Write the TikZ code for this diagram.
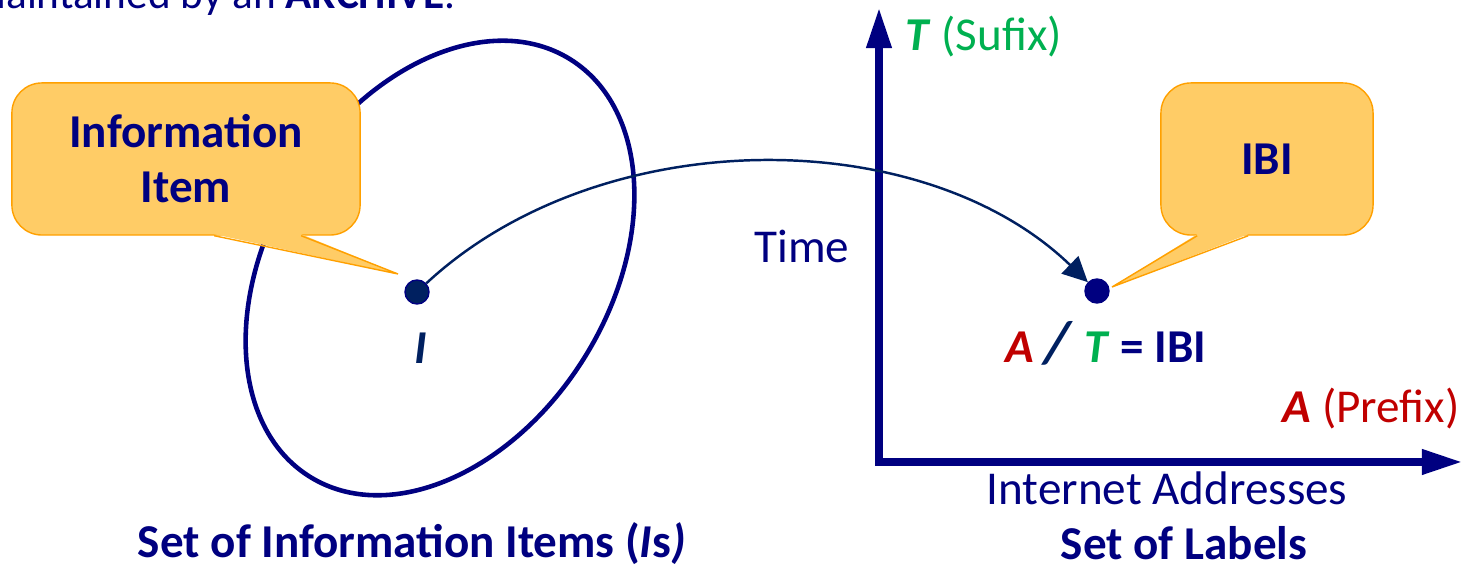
\documentclass[tikz,border=0pt]{standalone}
\usepackage{fontspec}
\setmainfont{Carlito}
\usepackage{tikz}
\usetikzlibrary{arrows.meta,positioning,calc}
\usepackage{xcolor}
\definecolor{navy}{HTML}{000080}
\definecolor{dkblue}{HTML}{002060}
\definecolor{tgreen}{HTML}{00B050}
\definecolor{ared}{HTML}{C00000}
\definecolor{bubblefill}{HTML}{FFCC66}
\definecolor{bubbleline}{HTML}{FFA000}

\begin{document}
\begin{tikzpicture}[x=0.01cm,y=0.01cm,
    txt/.style={font=\fontsize{13.4}{15.6}\selectfont,text=navy,inner sep=0pt},
    boldtxt/.style={txt,font=\fontsize{13.4}{15.6}\selectfont\bfseries},
    bubble/.style={boldtxt,draw=bubbleline,fill=bubblefill,line width=0.4pt,rounded corners=0.3cm,minimum height=1.52cm,align=center},
    dot/.style={circle,inner sep=0pt,minimum size=0.24cm,draw=navy,line width=0.4pt},
    axis/.style={navy,line width=2pt,{Triangle[length=0.4cm,width=0.24cm]}-{Triangle[length=0.4cm,width=0.24cm]}},
    arr/.style={-{Triangle[length=0.25cm,width=0.24cm]},dkblue,line width=0.7pt}
]
\useasboundingbox (0,0) rectangle (1462,567);

% heading line, cut by the page
\node[txt,font=\fontsize{12.3}{14}\selectfont,anchor=base east] (topline) at (456,558) {maintained by an \textbf{ARCHIVE}.};

% set of information items
\draw[navy,line width=1.3pt,rotate around={58:(440,299)}] (440,299) ellipse [x radius=246,y radius=170];
\node[dot,fill=dkblue] (ii) at (417,275) {};
\node[boldtxt,text=dkblue,anchor=base] (ilabel) at (421,203) {\textit{I}};
\node[boldtxt,anchor=base] (iset) at (412,9) {Set of Information Items (\textit{I}s\textit{)}};

% callout left
\node[bubble,minimum width=3.48cm] (infobox) at (186,408) {Information\\Item};
\coordinate (infotip) at (398,293);
\fill[bubblefill] ($(infobox.south west)+(203,1.5)$) -- (infotip) -- ($(infobox.south west)+(290,1.5)$) -- cycle;
\draw[bubbleline,line width=0.4pt] ($(infobox.south west)+(203,0)$) -- (infotip) -- ($(infobox.south west)+(290,0)$);

% axes
\coordinate (ymax) at (879,559);
\coordinate (orig) at (879,105);
\coordinate (xmax) at (1462,105);
\draw[axis] (ymax) -- (orig) -- (xmax);
\node[txt,text=tgreen,anchor=base west] (tlabel) at (905,516) {\textbf{\textit{T}} (Sufix)};
\node[txt,text=ared,anchor=base east] (alabel) at (1460,144) {\textbf{\textit{A}} (Prefix)};
\node[txt,anchor=base east] (time) at (850,304) {Time};
\node[txt,anchor=base] (inet) at (1167,62) {Internet Addresses};
\node[boldtxt,anchor=base] (lset) at (1184,7) {Set of Labels};

% label point
\node[dot,fill=navy] (ibi) at (1097,276) {};
\node[boldtxt,anchor=base west] (ibilabel) at (1005,204) {\textcolor{ared}{\textit{A}} \textcolor{dkblue}{\fontsize{17}{17}\selectfont\textit{/}} \textcolor{tgreen}{\textit{T}} = IBI};

% callout right
\node[bubble,minimum width=2.12cm] (ibibox) at (1267,408) {IBI};
\coordinate (ibitip) at (1112,280);
\fill[bubblefill] ($(ibibox.south west)+(37,1.5)$) -- (ibitip) -- ($(ibibox.south west)+(88,1.5)$) -- cycle;
\draw[bubbleline,line width=0.4pt] ($(ibibox.south west)+(37,0)$) -- (ibitip) -- ($(ibibox.south west)+(88,0)$);

% mapping
\draw[arr] (ii) .. controls (600,445) and (922,445) .. (ibi);
\end{tikzpicture}
\end{document}
